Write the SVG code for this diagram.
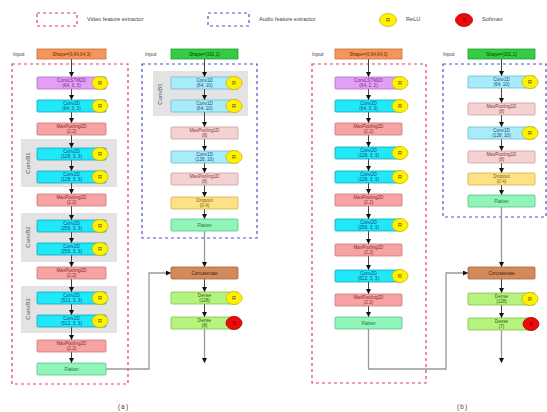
<svg xmlns="http://www.w3.org/2000/svg" width="547" height="412" viewBox="0 0 547 412">
<defs>
<marker id="ah" viewBox="0 0 6 6" refX="6" refY="3" markerWidth="5" markerHeight="5" markerUnits="userSpaceOnUse" orient="auto"><path d="M0,0 L6,3 L0,6 z" fill="#111"/></marker>
<style>
text{font-family:"Liberation Sans","DejaVu Sans",sans-serif;text-anchor:middle}
.t{font-size:4.6px}
.lg{font-size:5.6px;fill:#444;text-anchor:start}
.in{font-size:5.2px;fill:#444;text-anchor:start}
.cap{font-size:6.5px;fill:#444;font-family:"Liberation Mono",monospace}
.bl{font-size:6px;fill:#555}
.n{stroke-width:0.8}
.lstm{fill:#e39ef5;stroke:#b070c8}.lstmT{fill:#7a2a8a}
.c2{fill:#1fe8f8;stroke:#10a8b8}.c2T{fill:#1a4a80}
.mp{fill:#f7a3a3;stroke:#c87878}.mpT{fill:#8a2a2a}
.fl{fill:#8ff5b8;stroke:#5ac08a}.flT{fill:#2a6a40}
.c1{fill:#a8ecfa;stroke:#70b8d0}.c1T{fill:#1a4a80}
.m1{fill:#f4d2d2;stroke:#c8a0a0}.m1T{fill:#8a3a3a}
.dr{fill:#fde184;stroke:#d4b050}.drT{fill:#7a5a10}
.cc{fill:#d38a5a;stroke:#a86440}.ccT{fill:#4a2010}
.de{fill:#b6f27e;stroke:#80c050}.deT{fill:#2a5a10}
.iv{fill:#f5955a;stroke:#c8703a}.ivT{fill:#6a2a0a}
.ia{fill:#33cc44;stroke:#22a030}.iaT{fill:#0a4010}
.g{fill:#e3e3e3}
.r{fill:#fff200;stroke:#c8b800;stroke-width:0.8}
.s{fill:#ee0a0a;stroke:#b00000;stroke-width:0.8}
.rT{font-size:5.5px;fill:#554400}
.sT{font-size:5.5px;fill:#550000}
.vbox{fill:none;stroke:#e0405a;stroke-width:1.2;stroke-dasharray:3,3}
.abox{fill:none;stroke:#5050d0;stroke-width:1.2;stroke-dasharray:3,3}
.e{stroke:#444;stroke-width:1;fill:none;marker-end:url(#ah)}
.ln{stroke:#999;stroke-width:1.3;fill:none}
.lna{stroke:#999;stroke-width:1.3;fill:none;marker-end:url(#ah)}
</style>
</defs>

<g id="legend">
<rect x="37" y="13" width="40" height="13" class="vbox"/>
<text x="87" y="21" class="lg">Video feature extractor</text>
<rect x="208" y="13" width="41" height="13" class="abox"/>
<text x="259" y="21" class="lg">Audio feature extractor</text>
<ellipse cx="388" cy="20" rx="8.5" ry="6.5" class="r"/><text x="388" y="22" class="rT">R</text>
<text x="406" y="21" class="lg">ReLU</text>
<ellipse cx="464" cy="20" rx="8.5" ry="6.5" class="s"/><text x="464" y="22" class="sT">S</text>
<text x="482" y="21" class="lg">Softmax</text>
</g>

<!-- group boxes -->
<g id="groups">
<rect x="12" y="64" width="116" height="320" class="vbox"/>
<rect x="142" y="64" width="115" height="174" class="abox"/>
<rect x="312" y="64" width="114" height="319" class="vbox"/>
<rect x="443" y="64" width="103" height="153" class="abox"/>
<rect x="21" y="139" width="96" height="48" class="g"/>
<text transform="translate(30,163) rotate(-90)" class="bl">ConvB1</text>
<rect x="21" y="213" width="96" height="49" class="g"/>
<text transform="translate(30,237) rotate(-90)" class="bl">ConvB2</text>
<rect x="21" y="286" width="96" height="47" class="g"/>
<text transform="translate(30,309) rotate(-90)" class="bl">ConvB3</text>
<rect x="153" y="71" width="95" height="45" class="g"/>
<text transform="translate(162,94) rotate(-90)" class="bl">ConvB1</text>
</g>

<g id="labels">
<text x="13" y="56" class="in">Input</text>
<text x="145" y="56" class="in">Input</text>
<text x="312" y="56" class="in">Input</text>
<text x="443" y="56" class="in">Input</text>
<text x="123" y="409" class="cap">(a)</text>
<text x="462" y="409" class="cap">(b)</text>
</g>

<g id="connectors">
<!-- a video -->
<line x1="71.5" y1="59" x2="71.5" y2="77" class="e"/>
<line x1="71.5" y1="89" x2="71.5" y2="100" class="e"/>
<line x1="71.5" y1="112" x2="71.5" y2="123" class="e"/>
<line x1="71.5" y1="135" x2="71.5" y2="148" class="e"/>
<line x1="71.5" y1="160" x2="71.5" y2="171" class="e"/>
<line x1="71.5" y1="183" x2="71.5" y2="194" class="e"/>
<line x1="71.5" y1="206" x2="71.5" y2="220" class="e"/>
<line x1="71.5" y1="232" x2="71.5" y2="243" class="e"/>
<line x1="71.5" y1="255" x2="71.5" y2="267" class="e"/>
<line x1="71.5" y1="279" x2="71.5" y2="292" class="e"/>
<line x1="71.5" y1="304" x2="71.5" y2="315" class="e"/>
<line x1="71.5" y1="327" x2="71.5" y2="340" class="e"/>
<line x1="71.5" y1="352" x2="71.5" y2="363" class="e"/>
<polyline points="106,369 149,369 149,273 171,273" class="lna"/>
<!-- a audio -->
<line x1="204.5" y1="59" x2="204.5" y2="77" class="e"/>
<line x1="204.5" y1="89" x2="204.5" y2="100" class="e"/>
<line x1="204.5" y1="112" x2="204.5" y2="127" class="e"/>
<line x1="204.5" y1="139" x2="204.5" y2="151" class="e"/>
<line x1="204.5" y1="163" x2="204.5" y2="173" class="e"/>
<line x1="204.5" y1="185" x2="204.5" y2="197" class="e"/>
<line x1="204.5" y1="209" x2="204.5" y2="219" class="e"/>
<line x1="204.5" y1="231" x2="204.5" y2="267" class="lna"/>
<line x1="204.5" y1="279" x2="204.5" y2="292" class="e"/>
<line x1="204.5" y1="304" x2="204.5" y2="317" class="e"/>
<line x1="204.5" y1="329" x2="204.5" y2="363" class="lna"/>
<!-- b video -->
<line x1="368.5" y1="59" x2="368.5" y2="77" class="e"/>
<line x1="368.5" y1="89" x2="368.5" y2="100" class="e"/>
<line x1="368.5" y1="112" x2="368.5" y2="123" class="e"/>
<line x1="368.5" y1="135" x2="368.5" y2="147" class="e"/>
<line x1="368.5" y1="159" x2="368.5" y2="171" class="e"/>
<line x1="368.5" y1="183" x2="368.5" y2="194" class="e"/>
<line x1="368.5" y1="206" x2="368.5" y2="219" class="e"/>
<line x1="368.5" y1="231" x2="368.5" y2="244" class="e"/>
<line x1="368.5" y1="256" x2="368.5" y2="270" class="e"/>
<line x1="368.5" y1="282" x2="368.5" y2="294" class="e"/>
<line x1="368.5" y1="306" x2="368.5" y2="317" class="e"/>
<polyline points="368.5,329 368.5,369 446,369 446,273 468,273" class="lna"/>
<!-- b audio -->
<line x1="501.5" y1="59" x2="501.5" y2="76" class="e"/>
<line x1="501.5" y1="88" x2="501.5" y2="103" class="e"/>
<line x1="501.5" y1="115" x2="501.5" y2="127" class="e"/>
<line x1="501.5" y1="139" x2="501.5" y2="151" class="e"/>
<line x1="501.5" y1="163" x2="501.5" y2="173" class="e"/>
<line x1="501.5" y1="185" x2="501.5" y2="195" class="e"/>
<line x1="501.5" y1="207" x2="501.5" y2="267" class="lna"/>
<line x1="501.5" y1="279" x2="501.5" y2="293" class="e"/>
<line x1="501.5" y1="305" x2="501.5" y2="318" class="e"/>
<line x1="501.5" y1="330" x2="501.5" y2="363" class="lna"/>
</g>

<!-- (a) video nodes -->
<g id="a_in"><rect x="37" y="49" width="69" height="10" class="iv n"/><text x="71.5" y="55.6" class="t ivT">Shape=(6,64,64,3)</text></g>
<g id="a_lstm"><rect x="37" y="77" width="69" height="12" rx="1" class="lstm n"/><text x="71.5" y="82" class="t lstmT">ConvLSTM2D</text><text x="71.5" y="87" class="t lstmT">(64, 3, 3)</text><ellipse cx="100" cy="83" rx="8" ry="6.5" class="r"/><text x="100" y="85" class="rT">R</text></g>
<g id="a_c1"><rect x="37" y="100" width="69" height="12" rx="1" class="c2 n"/><text x="71.5" y="105" class="t c2T">Conv2D</text><text x="71.5" y="110" class="t c2T">(64, 3, 3)</text><ellipse cx="100" cy="106" rx="8" ry="6.5" class="r"/><text x="100" y="108" class="rT">R</text></g>
<g id="a_mp1"><rect x="37" y="123" width="69" height="12" rx="1" class="mp n"/><text x="71.5" y="128" class="t mpT">MaxPooling2D</text><text x="71.5" y="133" class="t mpT">(2,2)</text></g>
<g id="a_c2"><rect x="37" y="148" width="69" height="12" rx="1" class="c2 n"/><text x="71.5" y="153" class="t c2T">Conv2D</text><text x="71.5" y="158" class="t c2T">(128, 3, 3)</text><ellipse cx="100" cy="154" rx="8" ry="6.5" class="r"/><text x="100" y="156" class="rT">R</text></g>
<g id="a_c3"><rect x="37" y="171" width="69" height="12" rx="1" class="c2 n"/><text x="71.5" y="176" class="t c2T">Conv2D</text><text x="71.5" y="181" class="t c2T">(128, 3, 3)</text><ellipse cx="100" cy="177" rx="8" ry="6.5" class="r"/><text x="100" y="179" class="rT">R</text></g>
<g id="a_mp2"><rect x="37" y="194" width="69" height="12" rx="1" class="mp n"/><text x="71.5" y="199" class="t mpT">MaxPooling2D</text><text x="71.5" y="204" class="t mpT">(2,2)</text></g>
<g id="a_c4"><rect x="37" y="220" width="69" height="12" rx="1" class="c2 n"/><text x="71.5" y="225" class="t c2T">Conv2D</text><text x="71.5" y="230" class="t c2T">(256, 3, 3)</text><ellipse cx="100" cy="226" rx="8" ry="6.5" class="r"/><text x="100" y="228" class="rT">R</text></g>
<g id="a_c5"><rect x="37" y="243" width="69" height="12" rx="1" class="c2 n"/><text x="71.5" y="248" class="t c2T">Conv2D</text><text x="71.5" y="253" class="t c2T">(256, 3, 3)</text><ellipse cx="100" cy="249" rx="8" ry="6.5" class="r"/><text x="100" y="251" class="rT">R</text></g>
<g id="a_mp3"><rect x="37" y="267" width="69" height="12" rx="1" class="mp n"/><text x="71.5" y="272" class="t mpT">MaxPooling2D</text><text x="71.5" y="277" class="t mpT">(2,2)</text></g>
<g id="a_c6"><rect x="37" y="292" width="69" height="12" rx="1" class="c2 n"/><text x="71.5" y="297" class="t c2T">Conv2D</text><text x="71.5" y="302" class="t c2T">(512, 3, 3)</text><ellipse cx="100" cy="298" rx="8" ry="6.5" class="r"/><text x="100" y="300" class="rT">R</text></g>
<g id="a_c7"><rect x="37" y="315" width="69" height="12" rx="1" class="c2 n"/><text x="71.5" y="320" class="t c2T">Conv2D</text><text x="71.5" y="325" class="t c2T">(512, 3, 3)</text><ellipse cx="100" cy="321" rx="8" ry="6.5" class="r"/><text x="100" y="323" class="rT">R</text></g>
<g id="a_mp4"><rect x="37" y="340" width="69" height="12" rx="1" class="mp n"/><text x="71.5" y="345" class="t mpT">MaxPooling2D</text><text x="71.5" y="350" class="t mpT">(2,2)</text></g>
<g id="a_fl"><rect x="37" y="363" width="69" height="12" rx="1" class="fl n"/><text x="71.5" y="370.5" class="t flT">Flatten</text></g>

<!-- (a) audio nodes -->
<g id="a_ain"><rect x="171" y="49" width="67" height="10" class="ia n"/><text x="204.5" y="55.6" class="t iaT">Shape=(161,1)</text></g>
<g id="a_a1"><rect x="171" y="77" width="67" height="12" rx="1" class="c1 n"/><text x="204.5" y="82" class="t c1T">Conv1D</text><text x="204.5" y="87" class="t c1T">(64, 10)</text><ellipse cx="234" cy="83" rx="8" ry="6.5" class="r"/><text x="234" y="85" class="rT">R</text></g>
<g id="a_a2"><rect x="171" y="100" width="67" height="12" rx="1" class="c1 n"/><text x="204.5" y="105" class="t c1T">Conv1D</text><text x="204.5" y="110" class="t c1T">(64, 10)</text><ellipse cx="234" cy="106" rx="8" ry="6.5" class="r"/><text x="234" y="108" class="rT">R</text></g>
<g id="a_a3"><rect x="171" y="127" width="67" height="12" rx="1" class="m1 n"/><text x="204.5" y="132" class="t m1T">MaxPooling1D</text><text x="204.5" y="137" class="t m1T">(8)</text></g>
<g id="a_a4"><rect x="171" y="151" width="67" height="12" rx="1" class="c1 n"/><text x="204.5" y="156" class="t c1T">Conv1D</text><text x="204.5" y="161" class="t c1T">(128, 10)</text><ellipse cx="234" cy="157" rx="8" ry="6.5" class="r"/><text x="234" y="159" class="rT">R</text></g>
<g id="a_a5"><rect x="171" y="173" width="67" height="12" rx="1" class="m1 n"/><text x="204.5" y="178" class="t m1T">MaxPooling1D</text><text x="204.5" y="183" class="t m1T">(8)</text></g>
<g id="a_a6"><rect x="171" y="197" width="67" height="12" rx="1" class="dr n"/><text x="204.5" y="202" class="t drT">Dropout</text><text x="204.5" y="207" class="t drT">(0.4)</text></g>
<g id="a_a7"><rect x="171" y="219" width="67" height="12" rx="1" class="fl n"/><text x="204.5" y="226.5" class="t flT">Flatten</text></g>
<g id="a_cc"><rect x="171" y="267" width="67" height="12" rx="1" class="cc n"/><text x="204.5" y="274.5" class="t ccT">Concatenate</text></g>
<g id="a_d1"><rect x="171" y="292" width="67" height="12" rx="1" class="de n"/><text x="204.5" y="297" class="t deT">Dense</text><text x="204.5" y="302" class="t deT">(128)</text><ellipse cx="234" cy="298" rx="8" ry="6.5" class="r"/><text x="234" y="300" class="rT">R</text></g>
<g id="a_d2"><rect x="171" y="317" width="67" height="12" rx="1" class="de n"/><text x="204.5" y="322" class="t deT">Dense</text><text x="204.5" y="327" class="t deT">(8)</text><ellipse cx="234" cy="323" rx="8" ry="6.5" class="s"/><text x="234" y="325" class="sT">S</text></g>

<!-- (b) video nodes -->
<g id="b_in"><rect x="335" y="49" width="67" height="10" class="iv n"/><text x="368.5" y="55.6" class="t ivT">Shape=(6,64,64,3)</text></g>
<g id="b_lstm"><rect x="335" y="77" width="67" height="12" rx="1" class="lstm n"/><text x="368.5" y="82" class="t lstmT">ConvLSTM2D</text><text x="368.5" y="87" class="t lstmT">(64, 2, 2)</text><ellipse cx="400" cy="83" rx="8" ry="6.5" class="r"/><text x="400" y="85" class="rT">R</text></g>
<g id="b_c1"><rect x="335" y="100" width="67" height="12" rx="1" class="c2 n"/><text x="368.5" y="105" class="t c2T">Conv2D</text><text x="368.5" y="110" class="t c2T">(64, 3, 3)</text><ellipse cx="400" cy="106" rx="8" ry="6.5" class="r"/><text x="400" y="108" class="rT">R</text></g>
<g id="b_mp1"><rect x="335" y="123" width="67" height="12" rx="1" class="mp n"/><text x="368.5" y="128" class="t mpT">MaxPooling2D</text><text x="368.5" y="133" class="t mpT">(2,2)</text></g>
<g id="b_c2"><rect x="335" y="147" width="67" height="12" rx="1" class="c2 n"/><text x="368.5" y="152" class="t c2T">Conv2D</text><text x="368.5" y="157" class="t c2T">(128, 3, 3)</text><ellipse cx="400" cy="153" rx="8" ry="6.5" class="r"/><text x="400" y="155" class="rT">R</text></g>
<g id="b_c3"><rect x="335" y="171" width="67" height="12" rx="1" class="c2 n"/><text x="368.5" y="176" class="t c2T">Conv2D</text><text x="368.5" y="181" class="t c2T">(128, 3, 3)</text><ellipse cx="400" cy="177" rx="8" ry="6.5" class="r"/><text x="400" y="179" class="rT">R</text></g>
<g id="b_mp2"><rect x="335" y="194" width="67" height="12" rx="1" class="mp n"/><text x="368.5" y="199" class="t mpT">MaxPooling2D</text><text x="368.5" y="204" class="t mpT">(2,2)</text></g>
<g id="b_c4"><rect x="335" y="219" width="67" height="12" rx="1" class="c2 n"/><text x="368.5" y="224" class="t c2T">Conv2D</text><text x="368.5" y="229" class="t c2T">(256, 3, 3)</text><ellipse cx="400" cy="225" rx="8" ry="6.5" class="r"/><text x="400" y="227" class="rT">R</text></g>
<g id="b_mp3"><rect x="335" y="244" width="67" height="12" rx="1" class="mp n"/><text x="368.5" y="249" class="t mpT">MaxPooling2D</text><text x="368.5" y="254" class="t mpT">(2,2)</text></g>
<g id="b_c5"><rect x="335" y="270" width="67" height="12" rx="1" class="c2 n"/><text x="368.5" y="275" class="t c2T">Conv2D</text><text x="368.5" y="280" class="t c2T">(512, 3, 3)</text><ellipse cx="400" cy="276" rx="8" ry="6.5" class="r"/><text x="400" y="278" class="rT">R</text></g>
<g id="b_mp4"><rect x="335" y="294" width="67" height="12" rx="1" class="mp n"/><text x="368.5" y="299" class="t mpT">MaxPooling2D</text><text x="368.5" y="304" class="t mpT">(2,2)</text></g>
<g id="b_fl"><rect x="335" y="317" width="67" height="12" rx="1" class="fl n"/><text x="368.5" y="324.5" class="t flT">Flatten</text></g>

<!-- (b) audio nodes -->
<g id="b_ain"><rect x="468" y="49" width="67" height="10" class="ia n"/><text x="501.5" y="55.6" class="t iaT">Shape=(161,1)</text></g>
<g id="b_a1"><rect x="468" y="76" width="67" height="12" rx="1" class="c1 n"/><text x="501.5" y="81" class="t c1T">Conv1D</text><text x="501.5" y="86" class="t c1T">(64, 10)</text><ellipse cx="530" cy="82" rx="8" ry="6.5" class="r"/><text x="530" y="84" class="rT">R</text></g>
<g id="b_a2"><rect x="468" y="103" width="67" height="12" rx="1" class="m1 n"/><text x="501.5" y="108" class="t m1T">MaxPooling1D</text><text x="501.5" y="113" class="t m1T">(8)</text></g>
<g id="b_a3"><rect x="468" y="127" width="67" height="12" rx="1" class="c1 n"/><text x="501.5" y="132" class="t c1T">Conv1D</text><text x="501.5" y="137" class="t c1T">(128, 10)</text><ellipse cx="530" cy="133" rx="8" ry="6.5" class="r"/><text x="530" y="135" class="rT">R</text></g>
<g id="b_a4"><rect x="468" y="151" width="67" height="12" rx="1" class="m1 n"/><text x="501.5" y="156" class="t m1T">MaxPooling1D</text><text x="501.5" y="161" class="t m1T">(8)</text></g>
<g id="b_a5"><rect x="468" y="173" width="67" height="12" rx="1" class="dr n"/><text x="501.5" y="178" class="t drT">Dropout</text><text x="501.5" y="183" class="t drT">(0.4)</text></g>
<g id="b_a6"><rect x="468" y="195" width="67" height="12" rx="1" class="fl n"/><text x="501.5" y="202.5" class="t flT">Flatten</text></g>
<g id="b_cc"><rect x="468" y="267" width="67" height="12" rx="1" class="cc n"/><text x="501.5" y="274.5" class="t ccT">Concatenate</text></g>
<g id="b_d1"><rect x="468" y="293" width="67" height="12" rx="1" class="de n"/><text x="501.5" y="298" class="t deT">Dense</text><text x="501.5" y="303" class="t deT">(128)</text><ellipse cx="530" cy="299" rx="8" ry="6.5" class="r"/><text x="530" y="301" class="rT">R</text></g>
<g id="b_d2"><rect x="468" y="318" width="67" height="12" rx="1" class="de n"/><text x="501.5" y="323" class="t deT">Dense</text><text x="501.5" y="328" class="t deT">(7)</text><ellipse cx="531" cy="324" rx="8" ry="6.5" class="s"/><text x="531" y="326" class="sT">S</text></g>
</svg>
